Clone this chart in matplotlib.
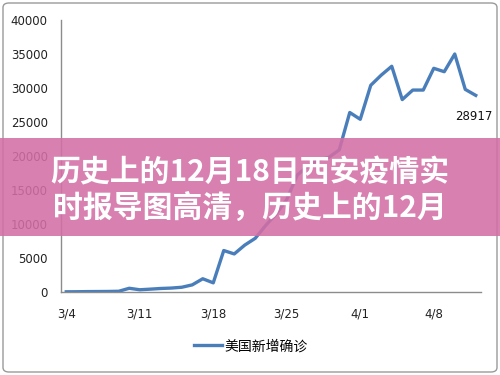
import numpy as np
import pandas as pd
import matplotlib
matplotlib.use('Agg')
import matplotlib.pyplot as plt
from matplotlib.patches import Rectangle, FancyBboxPatch

# daily new confirmed cases, 3/4 - 4/12
cases = [30, 40, 60, 70, 80, 110, 550, 330, 420, 520,
         580, 700, 1050, 1950, 1350, 6100, 5600, 6900, 7900, 9800,
         11500, 13600, 17200, 18500, 19400, 19800, 20900, 26400, 25400, 30400,
         31900, 33200, 28300, 29700, 29700, 32900, 32400, 35000, 29800, 28917]
days = pd.date_range('2020-03-04', periods=len(cases))
day_labels = ['%d/%d' % (d.month, d.day) for d in days]
series_name = '美国新增确诊'
y_ticks = [0, 5000, 10000, 15000, 20000, 25000, 30000, 35000, 40000]
banner_lines = ['历史上的12月18日西安疫情实', '时报导图高清，历史上的12月']

plt.rcParams['font.family'] = ['DejaVu Sans', 'Noto Sans CJK SC']

fig = plt.figure(figsize=(5, 3.75), dpi=100)
ax = fig.add_axes([0.122, 0.2213, 0.84, 0.7253])

x = np.arange(len(cases))
ax.plot(x, cases, color='#4a7ebb', lw=2.4, solid_joinstyle='round')

ax.set_xlim(-0.5, len(cases) - 0.5)
ax.set_ylim(0, 40000)
ax.set_yticks(y_ticks)
ax.set_yticklabels([str(v) for v in y_ticks])
ax.set_xticks(x[::7])
ax.set_xticklabels(day_labels[::7])
ax.tick_params(length=0, labelsize=8.5, colors='#222222')
ax.tick_params(axis='y', pad=9.5)
ax.tick_params(axis='x', pad=11)

for s in ['top', 'right']:
    ax.spines[s].set_visible(False)
for s in ['left', 'bottom']:
    ax.spines[s].set_color('#8c8c8c')
    ax.spines[s].set_linewidth(1)

# value label at the last point
ax.annotate(str(cases[-1]), (x[-1], cases[-1]), xytext=(-1.5, -15),
            textcoords='offset points', ha='center', va='center',
            fontsize=8.5, color='#111111')

ax.legend([series_name], loc='center', bbox_to_anchor=(0.502, 0.077),
          bbox_transform=fig.transFigure, frameon=False,
          prop={'family': 'Noto Sans CJK SC', 'size': 10},
          handlelength=2.0, handletextpad=0.2)

# outer frame
fig.add_artist(FancyBboxPatch((0.006, 0.008), 0.988, 0.984,
                              boxstyle='round,pad=0,rounding_size=0.012',
                              transform=fig.transFigure, fill=False,
                              edgecolor='#9a9a9a', lw=1, zorder=4))

# title banner
fig.add_artist(Rectangle((0, 0.3707), 1, 0.2613, transform=fig.transFigure,
                         facecolor='#d36fa5', alpha=0.88, lw=0, zorder=5))
fig.text(0.5, 0.5413, banner_lines[0], ha='center', va='center',
         family='Noto Sans CJK SC', weight='bold', size=21.5,
         color='white', zorder=6)
fig.text(0.5, 0.4453, banner_lines[1], ha='center', va='center',
         family='Noto Sans CJK SC', weight='bold', size=21.5,
         color='white', zorder=6)

fig.savefig('out.png', dpi=100)
